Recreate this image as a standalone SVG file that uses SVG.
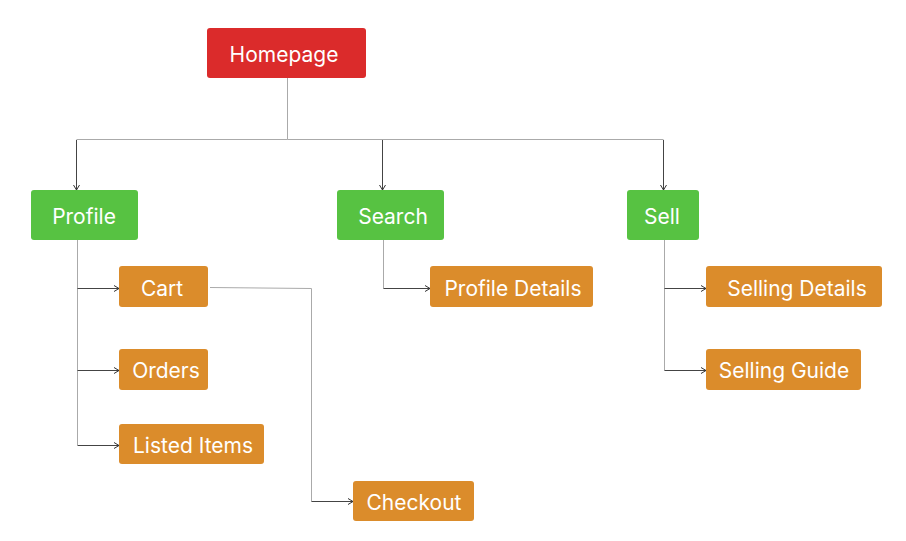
<svg xmlns="http://www.w3.org/2000/svg" width="906" height="541" viewBox="0 0 906 541">
<defs>
<marker id="arr" viewBox="0 0 8 8" refX="7" refY="4" markerWidth="8" markerHeight="8" markerUnits="userSpaceOnUse" orient="auto">
<polyline points="2,1 7,4 2,7" fill="none" stroke="#333" stroke-width="1"/>
</marker>
<style>
.n rect{rx:3;ry:3}
.red rect{fill:#DB2B2B}
.grn rect{fill:#57C242}
.org rect{fill:#DB8C2B}
.n text{font-family:Inter,"Liberation Sans",sans-serif;font-size:21px;fill:#fff;text-anchor:middle;dominant-baseline:central}
.t{fill:none;stroke:#aaa;stroke-width:1}
.a{fill:none;stroke:#444;stroke-width:1;marker-end:url(#arr)}
</style>
</defs>
<rect width="906" height="541" fill="#fff"/>
<g id="connectors">
<path class="t" d="M287.5,78 V139.5 H663.5"/>
<path class="t" d="M76.5,139.5 H287.5"/>
<path class="a" d="M76.5,140 V190"/>
<path class="a" d="M382.5,140 V190"/>
<path class="a" d="M663.5,140 V190"/>
<path class="t" d="M77.5,240 V445"/>
<path class="a" d="M77.5,288.5 H119"/>
<path class="a" d="M77.5,370.5 H119"/>
<path class="a" d="M77.5,445.5 H119"/>
<path class="t" d="M210,287.5 L311.5,288.5 V501.5"/>
<path class="a" d="M311.5,501.5 H353"/>
<path class="t" d="M383.5,240 V288.5"/>
<path class="a" d="M383.5,288.5 H430"/>
<path class="t" d="M664.5,240 V370.5"/>
<path class="a" d="M664.5,288.5 H706"/>
<path class="a" d="M664.5,370.5 H706"/>
</g>
<g id="homepage" class="n red"><rect x="207" y="28" width="159" height="50"/><text x="284" y="54">Homepage</text></g>
<g id="profile" class="n grn"><rect x="31" y="190" width="107" height="50"/><text x="84" y="216">Profile</text></g>
<g id="search" class="n grn"><rect x="337" y="190" width="107" height="50"/><text x="393" y="216">Search</text></g>
<g id="sell" class="n grn"><rect x="627" y="190" width="72" height="50"/><text x="662" y="216">Sell</text></g>
<g id="cart" class="n org"><rect x="119" y="266" width="89" height="41"/><text x="162" y="288">Cart</text></g>
<g id="orders" class="n org"><rect x="119" y="349" width="89" height="41"/><text x="166" y="370">Orders</text></g>
<g id="listed-items" class="n org"><rect x="119" y="424" width="145" height="40"/><text x="193" y="445">Listed Items</text></g>
<g id="checkout" class="n org"><rect x="353" y="481" width="121" height="40"/><text x="414" y="502">Checkout</text></g>
<g id="profile-details" class="n org"><rect x="430" y="266" width="163" height="41"/><text x="513" y="288">Profile Details</text></g>
<g id="selling-details" class="n org"><rect x="706" y="266" width="176" height="41"/><text x="797" y="288">Selling Details</text></g>
<g id="selling-guide" class="n org"><rect x="706" y="349" width="155" height="41"/><text x="784" y="370">Selling Guide</text></g>
</svg>
